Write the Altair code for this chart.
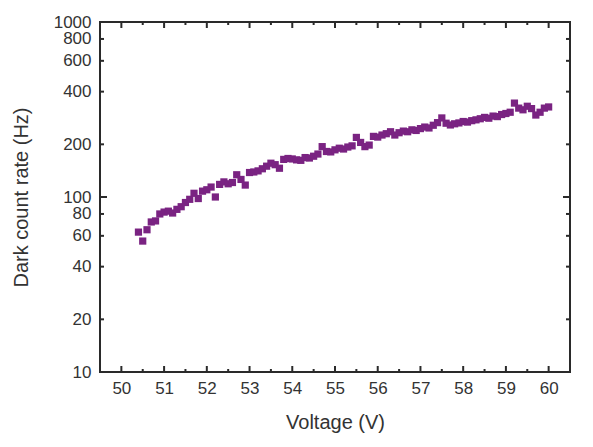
import altair as alt
import pandas as pd

voltage = [50.4, 50.5, 50.6, 50.7, 50.8, 50.9, 51.0, 51.1, 51.2, 51.3, 51.4, 51.5, 51.6, 51.7, 51.8, 51.9,
           52.0, 52.1, 52.2, 52.3, 52.4, 52.5, 52.6, 52.7, 52.8, 52.9, 53.0, 53.1, 53.2, 53.3, 53.4, 53.5,
           53.6, 53.7, 53.8, 53.9, 54.0, 54.1, 54.2, 54.3, 54.4, 54.5, 54.6, 54.7, 54.8, 54.9, 55.0, 55.1,
           55.2, 55.3, 55.4, 55.5, 55.6, 55.7, 55.8, 55.9, 56.0, 56.1, 56.2, 56.3, 56.4, 56.5, 56.6, 56.7,
           56.8, 56.9, 57.0, 57.1, 57.2, 57.3, 57.4, 57.5, 57.6, 57.7, 57.8, 57.9, 58.0, 58.1, 58.2, 58.3,
           58.4, 58.5, 58.6, 58.7, 58.8, 58.9, 59.0, 59.1, 59.2, 59.3, 59.4, 59.5, 59.6, 59.7, 59.8, 59.9, 60.0]
rate = [63, 56, 65, 72, 73, 80, 82, 83, 81, 85, 88, 93, 97, 105, 98, 108,
        110, 114, 100, 118, 122, 119, 121, 134, 126, 117, 138, 139, 141, 145, 150, 156,
        153, 146, 164, 166, 165, 163, 162, 168, 167, 171, 176, 194, 182, 181, 186, 190,
        188, 193, 196, 219, 205, 194, 198, 222, 220, 226, 230, 236, 226, 233, 238, 236,
        242, 240, 246, 251, 248, 257, 266, 283, 264, 258, 262, 265, 270, 268, 273, 276,
        280, 285, 282, 290, 288, 296, 300, 305, 344, 322, 315, 330, 320, 294, 305, 322, 327]

x_ticks = [50, 51, 52, 53, 54, 55, 56, 57, 58, 59, 60]
x_minor = [50.5, 51.5, 52.5, 53.5, 54.5, 55.5, 56.5, 57.5, 58.5, 59.5]
y_ticks = [10, 20, 40, 60, 80, 100, 200, 400, 600, 800, 1000]
y_major = [10, 100, 1000]
y_minor = [20, 40, 60, 80, 200, 400, 600, 800]

W, H = 470, 350
FRAME = "#2a2a2a"

df = pd.DataFrame({"v": voltage, "r": rate})
xscale = alt.Scale(domain=[49.5, 60.5], nice=False, zero=False)
yscale = alt.Scale(type="log", domain=[10, 1000], nice=False)
xaxis = alt.Axis(values=x_ticks, format="d", labelPadding=8, titlePadding=16,
                 labelOverlap=False, labelFlush=False)
yaxis = alt.Axis(values=y_ticks, format="d", labelPadding=9, titlePadding=22,
                 labelOverlap=False, labelFlush=False, labelBound=False)
XT = "Voltage (V)"
YT = "Dark count rate (Hz)"

pts = alt.Chart(df).mark_square(size=52, color="#7a2382", opacity=1).encode(
    x=alt.X("v:Q", scale=xscale, title=XT, axis=xaxis),
    y=alt.Y("r:Q", scale=yscale, title=YT, axis=yaxis),
)

def xrules(vals, length):
    d = pd.DataFrame({"v": vals})
    bottom = alt.Chart(d).mark_rule(color=FRAME, strokeWidth=2).encode(
        x=alt.X("v:Q", scale=xscale, title=XT, axis=xaxis), y=alt.value(H), y2=alt.value(H - length))
    top = alt.Chart(d).mark_rule(color=FRAME, strokeWidth=2).encode(
        x=alt.X("v:Q", scale=xscale, title=XT, axis=xaxis), y=alt.value(0), y2=alt.value(length))
    return [bottom, top]

def yrules(vals, length):
    d = pd.DataFrame({"r": vals})
    left = alt.Chart(d).mark_rule(color=FRAME, strokeWidth=2).encode(
        y=alt.Y("r:Q", scale=yscale, title=YT, axis=yaxis), x=alt.value(0), x2=alt.value(length))
    right = alt.Chart(d).mark_rule(color=FRAME, strokeWidth=2).encode(
        y=alt.Y("r:Q", scale=yscale, title=YT, axis=yaxis), x=alt.value(W), x2=alt.value(W - length))
    return [left, right]

layers = [pts] + xrules(x_ticks, 6) + xrules(x_minor, 3) + yrules(y_major, 7) + yrules(y_minor, 4)

chart = alt.layer(*layers).properties(
    width=W, height=H,
    autosize=alt.AutoSizeParams(type="none"),
    padding={"left": 92, "top": 14, "right": 15, "bottom": 70},
    background="white",
).configure_view(
    stroke=FRAME, strokeWidth=2
).configure_axis(
    grid=False, ticks=False, domain=False,
    labelFont="Liberation Sans", labelFontSize=17, labelColor="#333333",
    titleFont="Liberation Sans", titleFontSize=20, titleFontWeight="normal", titleColor="#333333",
)

chart.save("out.html", embed_options={"renderer": "svg", "actions": False})
